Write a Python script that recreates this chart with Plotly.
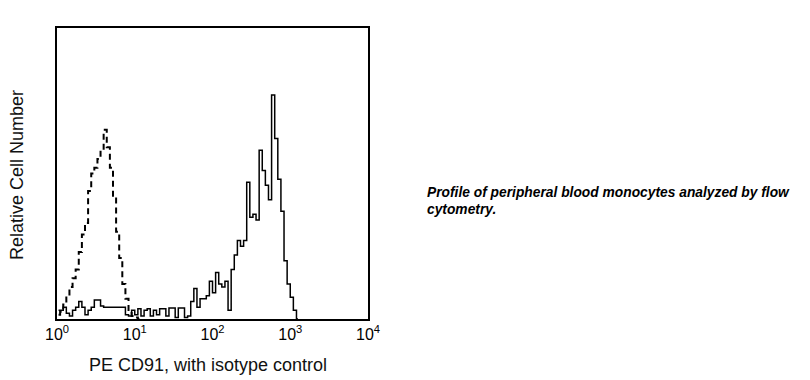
import plotly.graph_objects as go

# Histogram channels: bin centres in log10 units (scale definition)
LOG_BIN_START = 0.02
LOG_BIN_STEP = 0.04

# Isotype control (dashed) – relative cell number per channel
isotype_counts = [1.5, 2.5, 5, 8, 11, 14, 17, 23, 29, 33, 44, 50, 52, 55, 58, 65,
                  59, 52, 42, 30, 21, 12, 7, 2.5, 1, 0.5, 0]

# PE CD91 (solid) – relative cell number per channel
cd91_counts = [3, 3, 4, 2, 1, 3, 4, 6, 4, 1.5, 3, 4, 6.5, 6.5, 4.5,
               4, 4, 4, 4, 4, 4, 4, 1.5, 1, 3, 1.5, 3.5, 1, 3, 3.5, 1, 3,
               1.5, 3.5, 3.5, 1, 3.8, 3.8, 0.5, 3.8, 3.8, 0.5, 1, 6, 10.5,
               4, 7, 7, 8, 13, 9, 16, 12, 11, 13, 3, 17, 22, 27, 25, 27, 47,
               35, 36, 34, 58, 51, 46, 41, 77, 62, 48, 37, 20, 12, 7.5, 3, 0]

tick_vals = [1, 10, 100, 1000, 10000]
tick_text = ["10<sup>0</sup>", "10<sup>1</sup>", "10<sup>2</sup>",
             "10<sup>3</sup>", "10<sup>4</sup>"]

x_title = "PE CD91, with isotype control"
y_title = "Relative Cell Number"
caption_line1 = "Profile of peripheral blood monocytes analyzed by flow"
caption_line2 = "cytometry."


def channel_x(n):
    return [10 ** (LOG_BIN_START + LOG_BIN_STEP * i) for i in range(n)]


FONT = "Liberation Sans, Arial, sans-serif"

fig = go.Figure()
fig.add_trace(go.Scatter(
    x=channel_x(len(isotype_counts)), y=isotype_counts, mode="lines",
    line=dict(color="black", width=2, dash="6px,4px", shape="hvh"),
    showlegend=False, hoverinfo="skip"))
fig.add_trace(go.Scatter(
    x=channel_x(len(cd91_counts)), y=cd91_counts, mode="lines",
    line=dict(color="black", width=1.5, shape="hvh"),
    showlegend=False, hoverinfo="skip"))

fig.update_layout(
    width=810, height=380,
    margin=dict(l=57, r=442, t=28, b=61),
    paper_bgcolor="white", plot_bgcolor="white",
    font=dict(family=FONT, color="black"),
    xaxis=dict(type="log", range=[0, 4], tickvals=tick_vals, ticktext=tick_text,
               showgrid=False, zeroline=False, ticks="",
               showline=True, mirror=True, linecolor="black", linewidth=2,
               tickfont=dict(size=16, family=FONT, color="black")),
    yaxis=dict(range=[0, 100], showgrid=False, zeroline=False, ticks="",
               showticklabels=False,
               showline=True, mirror=True, linecolor="black", linewidth=2),
    annotations=[
        dict(text=y_title, xref="paper", yref="paper", x=-0.1286, y=0.495,
             textangle=-90, showarrow=False, xanchor="center", yanchor="middle",
             font=dict(size=18, family=FONT, color="#111")),
        dict(text=x_title, xref="paper", yref="paper", x=0.484, y=-0.158,
             showarrow=False, xanchor="center", yanchor="middle",
             font=dict(size=18, family=FONT, color="#111")),
        dict(text="<b><i>" + caption_line1 + "</i></b>", xref="paper", yref="paper",
             x=1.184, y=0.433, showarrow=False, xanchor="left", yanchor="middle",
             font=dict(size=13.8, family=FONT, color="black")),
        dict(text="<b><i>" + caption_line2 + "</i></b>", xref="paper", yref="paper",
             x=1.184, y=0.3746, showarrow=False, xanchor="left", yanchor="middle",
             font=dict(size=13.8, family=FONT, color="black")),
    ],
)

fig.write_html("out.html",
               config={"displayModeBar": False},
               post_script="document.body.style.margin='0';"
                           "document.body.style.overflow='hidden';")
